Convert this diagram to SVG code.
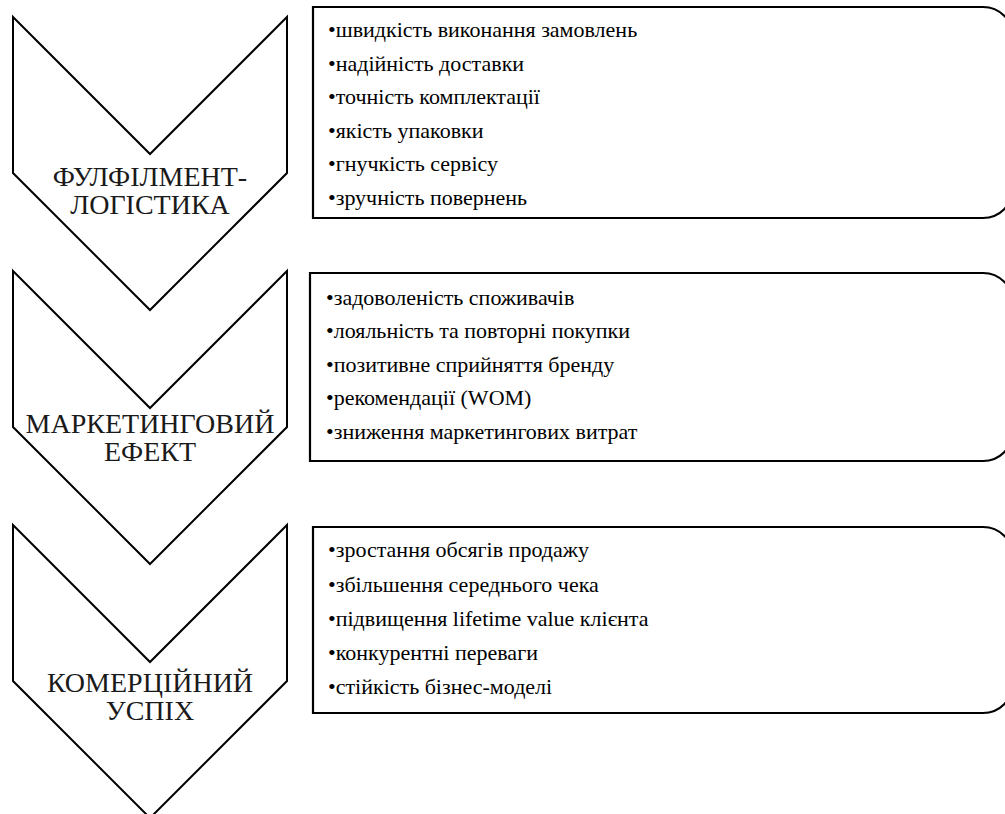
<svg xmlns="http://www.w3.org/2000/svg" width="1005" height="814" viewBox="0 0 1005 814">
<style>
.chev{fill:#fff;stroke:#000;stroke-width:2;stroke-linejoin:miter}
.box{fill:#fff;stroke:#000;stroke-width:2.2}
</style>
<rect width="1005" height="814" fill="#fff"/>
<g id="chevron1">
<path class="chev" d="M13,17 L150,154 L287,17 L287,173 L150,310 L13,173 Z"/>
<text style="font-family:Liberation Serif,Times New Roman,Noto Sans CJK SC,serif;font-size:28px;fill:#1a1a1a;text-anchor:middle" x="150" y="186">ФУЛФІЛМЕНТ-</text>
<text style="font-family:Liberation Serif,Times New Roman,Noto Sans CJK SC,serif;font-size:28px;fill:#1a1a1a;text-anchor:middle" x="150" y="214">ЛОГІСТИКА</text>
</g>
<g id="chevron2">
<path class="chev" d="M13,271 L150,408 L287,271 L287,427 L150,564 L13,427 Z"/>
<text style="font-family:Liberation Serif,Times New Roman,Noto Sans CJK SC,serif;font-size:28px;fill:#1a1a1a;text-anchor:middle" x="150" y="433">МАРКЕТИНГОВИЙ</text>
<text style="font-family:Liberation Serif,Times New Roman,Noto Sans CJK SC,serif;font-size:28px;fill:#1a1a1a;text-anchor:middle" x="150" y="461">ЕФЕКТ</text>
</g>
<g id="chevron3">
<path class="chev" d="M13,525 L150,662 L287,525 L287,681 L150,818 L13,681 Z"/>
<text style="font-family:Liberation Serif,Times New Roman,Noto Sans CJK SC,serif;font-size:28px;fill:#1a1a1a;text-anchor:middle" x="150" y="692">КОМЕРЦІЙНИЙ</text>
<text style="font-family:Liberation Serif,Times New Roman,Noto Sans CJK SC,serif;font-size:28px;fill:#1a1a1a;text-anchor:middle" x="150" y="720">УСПІХ</text>
</g>
<g id="box1">
<path class="box" d="M313,7 H983 A30,30 0 0 1 1013,37 V188 A30,30 0 0 1 983,218 H313 Z"/>
<text style="font-family:Liberation Serif,Times New Roman,Noto Sans CJK SC,serif;font-size:22px" x="328" y="37">•швидкість виконання замовлень</text>
<text style="font-family:Liberation Serif,Times New Roman,Noto Sans CJK SC,serif;font-size:22px" x="328" y="71">•надійність доставки</text>
<text style="font-family:Liberation Serif,Times New Roman,Noto Sans CJK SC,serif;font-size:22px" x="328" y="104">•точність комплектації</text>
<text style="font-family:Liberation Serif,Times New Roman,Noto Sans CJK SC,serif;font-size:22px" x="328" y="138">•якість упаковки</text>
<text style="font-family:Liberation Serif,Times New Roman,Noto Sans CJK SC,serif;font-size:22px" x="328" y="171">•гнучкість сервісу</text>
<text style="font-family:Liberation Serif,Times New Roman,Noto Sans CJK SC,serif;font-size:22px" x="328" y="205">•зручність повернень</text>
</g>
<g id="box2">
<path class="box" d="M310,273 H983 A30,30 0 0 1 1013,303 V431 A30,30 0 0 1 983,461 H310 Z"/>
<text style="font-family:Liberation Serif,Times New Roman,Noto Sans CJK SC,serif;font-size:22px" x="326" y="305">•задоволеність споживачів</text>
<text style="font-family:Liberation Serif,Times New Roman,Noto Sans CJK SC,serif;font-size:22px" x="326" y="338">•лояльність та повторні покупки</text>
<text style="font-family:Liberation Serif,Times New Roman,Noto Sans CJK SC,serif;font-size:22px" x="326" y="372">•позитивне сприйняття бренду</text>
<text style="font-family:Liberation Serif,Times New Roman,Noto Sans CJK SC,serif;font-size:22px" x="326" y="405">•рекомендації (WOM)</text>
<text style="font-family:Liberation Serif,Times New Roman,Noto Sans CJK SC,serif;font-size:22px" x="326" y="439">•зниження маркетингових витрат</text>
</g>
<g id="box3">
<path class="box" d="M313,527 H983 A30,30 0 0 1 1013,557 V683 A30,30 0 0 1 983,713 H313 Z"/>
<text style="font-family:Liberation Serif,Times New Roman,Noto Sans CJK SC,serif;font-size:22px" x="328" y="557">•зростання обсягів продажу</text>
<text style="font-family:Liberation Serif,Times New Roman,Noto Sans CJK SC,serif;font-size:22px" x="328" y="592">•збільшення середнього чека</text>
<text style="font-family:Liberation Serif,Times New Roman,Noto Sans CJK SC,serif;font-size:22px" x="328" y="626">•підвищення lifetime value клієнта</text>
<text style="font-family:Liberation Serif,Times New Roman,Noto Sans CJK SC,serif;font-size:22px" x="328" y="660">•конкурентні переваги</text>
<text style="font-family:Liberation Serif,Times New Roman,Noto Sans CJK SC,serif;font-size:22px" x="328" y="694">•стійкість бізнес-моделі</text>
</g>
<g id="connectors"/>
</svg>
